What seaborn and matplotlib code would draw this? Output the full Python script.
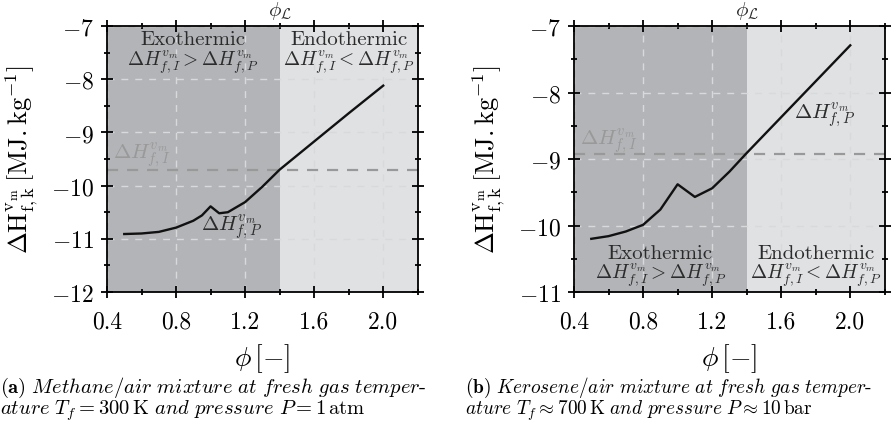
import numpy as np
import pandas as pd
import matplotlib
matplotlib.use('Agg')
import matplotlib.pyplot as plt
import seaborn as sns
from matplotlib.ticker import MultipleLocator

# data
phi_methane = [0.5, 0.6, 0.7, 0.8, 0.9, 0.95, 1.0, 1.05, 1.1, 1.2, 1.3, 1.4, 1.6, 1.8, 2.0]
dh_methane = [-10.91, -10.90, -10.87, -10.79, -10.66, -10.56, -10.39, -10.52, -10.50, -10.31,
              -10.02, -9.70, -9.17, -8.64, -8.12]
phi_kerosene = [0.5, 0.6, 0.7, 0.8, 0.9, 1.0, 1.1, 1.2, 1.3, 1.4, 1.5, 1.6, 1.7, 1.8, 1.9, 2.0]
dh_kerosene = [-10.20, -10.16, -10.09, -9.99, -9.76, -9.38, -9.57, -9.44, -9.19, -8.91,
               -8.64, -8.37, -8.10, -7.83, -7.56, -7.29]
dh_initial = [-9.70, -8.92]       # enthalpy of the initial mixture
phi_lim = 1.4
ylims = [(-12, -7), (-11, -7)]
captions = [
    [r'$\mathbf{(a)}\ \mathit{Methane/air\ mixture\ at\ fresh\ gas\ temper}$-',
     r'$\mathit{ature}\ T_f = 300\,\mathrm{K}\ \mathit{and\ pressure}\ P = 1\,\mathrm{atm}$'],
    [r'$\mathbf{(b)}\ \mathit{Kerosene/air\ mixture\ at\ fresh\ gas\ temper}$-',
     r'$\mathit{ature}\ T_f \approx 700\,\mathrm{K}\ \mathit{and\ pressure}\ P \approx 10\,\mathrm{bar}$'],
]

plt.rcParams['font.family'] = 'serif'
plt.rcParams['font.serif'] = ['cmr10', 'DejaVu Serif']
plt.rcParams['mathtext.fontset'] = 'cm'
plt.rcParams['axes.formatter.use_mathtext'] = True
plt.rcParams['axes.unicode_minus'] = True

fig = plt.figure(figsize=(8.93, 4.31), dpi=100)
axes = [fig.add_axes([0.1198, 0.3202, 0.348, 0.617]),
        fig.add_axes([0.6428, 0.3202, 0.348, 0.617])]

curves = [(phi_methane, dh_methane), (phi_kerosene, dh_kerosene)]
exo = r'$\Delta H^{v_m}_{f,I} > \Delta H^{v_m}_{f,P}$'
endo = r'$\Delta H^{v_m}_{f,I} < \Delta H^{v_m}_{f,P}$'
txt = '#2b2b2b'

for i, ax in enumerate(axes):
    x, y = curves[i]
    ax.axvspan(0.4, phi_lim, color='#b3b4b7', lw=0, zorder=0)
    ax.axvspan(phi_lim, 2.2, color='#e0e1e3', lw=0, zorder=0)
    ax.grid(True, color='#d8d9db', ls=(0, (5, 5)), lw=1)
    ax.axhline(dh_initial[i], color='#999999', lw=1.6, ls=(0, (5, 4)), zorder=2)
    sns.lineplot(x=x, y=y, ax=ax, color='#111111', lw=1.7, zorder=3)

    ax.set_xlim(0.4, 2.2)
    ax.set_ylim(*ylims[i])
    ax.xaxis.set_minor_locator(MultipleLocator(0.2))
    ax.yaxis.set_major_locator(MultipleLocator(1))
    ax.yaxis.set_minor_locator(MultipleLocator(0.5))
    ax.set_xticks([0.4, 0.8, 1.2, 1.6, 2.0])
    ax.set_xticklabels(['0.4', '0.8', '1.2', '1.6', '2.0'])
    ax.tick_params(which='both', direction='inout', top=True, right=True, width=1.3)
    ax.tick_params(which='major', length=9, labelsize=17)
    ax.tick_params(axis='x', which='major', pad=9)
    ax.tick_params(axis='y', which='major', pad=5)
    ax.tick_params(which='minor', length=5)
    for s in ax.spines.values():
        s.set_linewidth(1.3)

    ax.set_xlabel(r'$\phi\,[-]$', fontsize=20, labelpad=6)
    ax.set_ylabel(r'$\Delta\mathrm{H}^{\mathrm{v_m}}_{\mathrm{f,k}}\,[\mathrm{MJ.kg^{-1}}]$',
                  fontsize=19, labelpad=8)
    ax.text(phi_lim, 1.02, r'$\phi_{\mathcal{L}}$', transform=ax.get_xaxis_transform(),
            ha='center', va='bottom', fontsize=15, color=txt)

    if i == 0:
        ax.text(0.9, -7.25, 'Exothermic', ha='center', va='center', fontsize=15, color=txt)
        ax.text(0.9, -7.68, exo, ha='center', va='center', fontsize=14, color=txt)
        ax.text(1.8, -7.25, 'Endothermic', ha='center', va='center', fontsize=15, color=txt)
        ax.text(1.8, -7.68, endo, ha='center', va='center', fontsize=14, color=txt)
        ax.text(0.6, -9.4, r'$\Delta H^{v_m}_{f,I}$', ha='center', va='center', fontsize=15,
                color='#999999')
        ax.text(1.12, -10.76, r'$\Delta H^{v_m}_{f,P}$', ha='center', va='center', fontsize=15,
                color=txt)
    else:
        ax.text(0.9, -10.41, 'Exothermic', ha='center', va='center', fontsize=15, color=txt)
        ax.text(0.9, -10.74, exo, ha='center', va='center', fontsize=14, color=txt)
        ax.text(1.8, -10.41, 'Endothermic', ha='center', va='center', fontsize=15, color=txt)
        ax.text(1.8, -10.74, endo, ha='center', va='center', fontsize=14, color=txt)
        ax.text(0.6, -8.72, r'$\Delta H^{v_m}_{f,I}$', ha='center', va='center', fontsize=15,
                color='#999999')
        ax.text(1.85, -8.33, r'$\Delta H^{v_m}_{f,P}$', ha='center', va='center', fontsize=15,
                color=txt)

for i, (xpos, fs) in enumerate([(0.0, 14.8), (465 / 893, 13.9)]):
    fig.text(xpos, 1 - 388 / 431, captions[i][0], ha='left', va='center', fontsize=fs)
    fig.text(xpos, 1 - 411 / 431, captions[i][1], ha='left', va='center', fontsize=fs)

fig.savefig('out.png', dpi=100)
